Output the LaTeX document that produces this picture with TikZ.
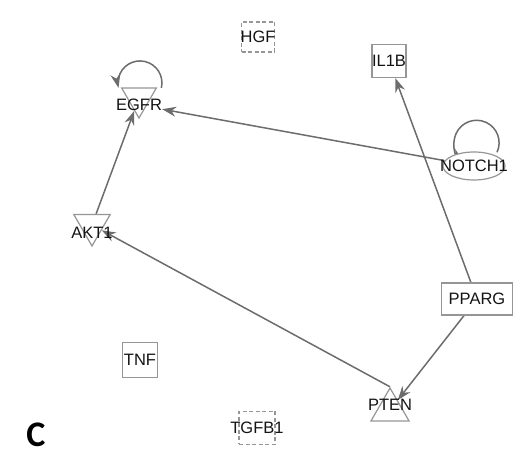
\documentclass[tikz,border=0pt]{standalone}
\usepackage{fontspec}
\setmainfont{Liberation Sans}
\newfontfamily\panelfont{Carlito}
\usetikzlibrary{shapes.geometric,arrows.meta,backgrounds}
\definecolor{edgegray}{RGB}{108,108,108}
\definecolor{boxgray}{RGB}{150,150,150}
\definecolor{txtgray}{RGB}{20,20,20}
\tikzset{
  gene/.style={font=\fontsize{16.5}{18}\selectfont,text=txtgray,inner sep=0pt},
  molecule/.style={draw=boxgray,line width=1.2pt,fill=white,inner sep=0pt},
  boxnode/.style args={#1,#2}{
  molecule,
  rectangle,
  minimum width=#1pt,
  minimum height=#2pt,
  },
  dashbox/.style args={#1,#2}{boxnode={#1,#2},dash pattern=on 4pt off 2.5pt},
  oval/.style args={#1,#2}{molecule,ellipse,minimum width=#1pt,minimum height=#2pt},
  downtri/.style={molecule,regular polygon,regular polygon sides=3,
   shape border rotate=180,minimum size=#1pt},
  uptri/.style={molecule,regular polygon,regular polygon sides=3,minimum size=#1pt},
  rel/.style={draw=edgegray,line width=1.5pt,-{Stealth[length=14pt,width=10pt]}}
}

\begin{document}
\begin{tikzpicture}[x=1pt,y=1pt]
  \useasboundingbox (0,0) rectangle (522,470);

  \node [dashbox={33,30},label={[gene,name=hgftxt]center:HGF}] (hgf) at (258,433) {};
  \node [boxnode={34,33},label={[gene,name=il1btxt]center:IL1B}] (il1b) at (389,409) {};
  \node [downtri=40,label={[gene,name=egfrtxt,yshift=-7pt]center:EGFR}] (egfr) at (139,372) {};
  \node [oval={62,28},label={[gene,name=notchtxt]center:NOTCH1}] (notch) at (474,304) {};
  \node [downtri=42,label={[gene,name=akt1txt,yshift=-8pt]center:AKT1}] (akt1) at (92,245) {};
  \node [boxnode={71,32},label={[gene,name=ppargtxt]center:PPARG}] (pparg) at (477,171) {};
  \node [boxnode={35,35},label={[gene,name=tnftxt]center:TNF}] (tnf) at (140,110) {};
  \node [uptri=44,label={[gene,name=ptentxt,yshift=5pt]center:PTEN}] (pten) at (390,60) {};
  \node [dashbox={36,33},label={[gene,name=tgfb1txt]center:TGFB1}] (tgfb1) at (257,42) {};

  \node [font=\panelfont\bfseries\fontsize{36}{40}\selectfont,inner sep=0pt] (panel) at (36,35) {C};

  \begin{scope}[on background layer]
  \draw [rel] (notch) -- (egfrtxt);
  \draw [rel] (akt1) -- (egfr);
  \draw [rel] (pten.corner 1) -- (akt1);
  \draw [rel] (pparg) -- (il1b);
  \draw [rel] (pparg) -- (pten);
  % self loops
  \draw [rel] ([shift={(22.4,10.1)}]egfr.center) arc [start angle=-13,end angle=193,radius=22];
  \draw [rel] ([shift={(23,13.7)}]notch.center) arc [start angle=-25,end angle=235,radius=22.5];
  \end{scope}
\end{tikzpicture}
\end{document}
